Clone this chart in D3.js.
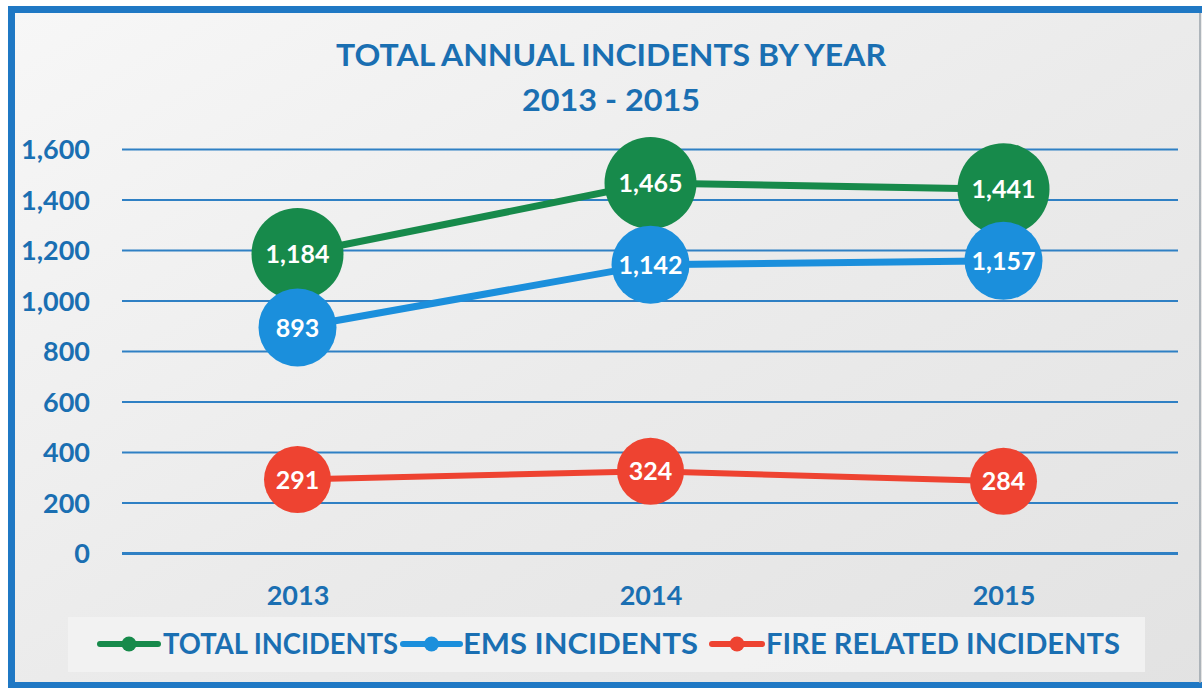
<!DOCTYPE html>
<html>
<head>
<meta charset="utf-8">
<script src="https://cdn.jsdelivr.net/npm/d3@7"></script>
<style>
  html, body { margin: 0; padding: 0; background: #ffffff; }
  svg { display: block; }
  text { font-family: Lato, "Open Sans", sans-serif; font-weight: 700; }
</style>
</head>
<body>
<svg id="chart" width="1202" height="688"></svg>
<script>
// Annual incident counts by year
const years = ["2013", "2014", "2015"];
const totalIncidents = [1184, 1465, 1441];
const emsIncidents = [893, 1142, 1157];
const fireIncidents = [291, 324, 284];
const yTicks = [0, 200, 400, 600, 800, 1000, 1200, 1400, 1600];
const seriesNames = ["TOTAL INCIDENTS", "EMS INCIDENTS", "FIRE RELATED INCIDENTS"];
const titleLines = ["TOTAL ANNUAL INCIDENTS BY YEAR", "2013 - 2015"];

const series = [
  { name: seriesNames[0], values: totalIncidents, color: "#178a4b", r: 46, lw: 7 },
  { name: seriesNames[1], values: emsIncidents, color: "#1b8fdc", r: 39, lw: 7 },
  { name: seriesNames[2], values: fireIncidents, color: "#ee4331", r: 33.5, lw: 6 }
];

const textBlue = "#1a6fb2";
const gridBlue = "#2f80c4";
const frameBlue = "#1f78c4";

const svg = d3.select("#chart");

// Panel background with a soft grey gradient
const defs = svg.append("defs");
const grad = defs.append("linearGradient").attr("id", "bg")
  .attr("x1", "0").attr("y1", "0").attr("x2", "1").attr("y2", "1");
grad.append("stop").attr("offset", "0").attr("stop-color", "#f7f7f7");
grad.append("stop").attr("offset", "0.5").attr("stop-color", "#ebebeb");
grad.append("stop").attr("offset", "1").attr("stop-color", "#e2e2e2");

svg.append("rect").attr("x", 11).attr("y", 9.5).attr("width", 1200).attr("height", 690)
  .attr("fill", "url(#bg)");

// Scales
const x = d3.scalePoint().domain(years).range([121, 1180]).padding(0.5);
const y = d3.scaleLinear().domain([0, 1600]).range([553, 149]);

// Gridlines and y tick labels through a left axis
const yAxis = d3.axisLeft(y).tickValues(yTicks).tickFormat(d3.format(",")).tickSize(-(1178 - 122)).tickPadding(32);
const gy = svg.append("g").attr("transform", "translate(122,0)").call(yAxis);
gy.select(".domain").remove();
gy.selectAll(".tick line")
  .attr("stroke", gridBlue)
  .attr("stroke-width", d => d === 0 ? 3.2 : 2);
gy.selectAll(".tick text")
  .attr("fill", textBlue)
  .style("font-size", "27px")
  .attr("dy", "0.36em");

// x category labels
const xAxis = d3.axisBottom(x).tickSize(0).tickPadding(0);
const gx = svg.append("g").attr("transform", "translate(0,605)").call(xAxis);
gx.select(".domain").remove();
gx.selectAll(".tick text")
  .attr("fill", textBlue)
  .attr("dy", 0)
  .style("font-size", "27px");

// Title
svg.append("g").selectAll("text").data(titleLines).join("text")
  .attr("x", 611)
  .attr("y", (d, i) => 66 + i * 45)
  .attr("text-anchor", "middle")
  .attr("fill", textBlue)
  .style("font-size", "30px")
  .attr("textLength", (d, i) => i === 0 ? 550 : 178)
  .attr("lengthAdjust", "spacingAndGlyphs")
  .text(d => d);

// Lines and labelled markers
const line = d3.line().x((d, i) => x(years[i])).y(d => y(d));
const gs = svg.append("g").selectAll("g").data(series).join("g");
gs.append("path")
  .attr("d", s => line(s.values))
  .attr("fill", "none")
  .attr("stroke", s => s.color)
  .attr("stroke-width", s => s.lw);
gs.each(function (s) {
  const g = d3.select(this);
  const pts = g.selectAll("g.pt").data(s.values).join("g").attr("class", "pt")
    .attr("transform", (d, i) => `translate(${x(years[i])},${y(d)})`);
  pts.append("circle").attr("r", s.r).attr("fill", s.color);
  pts.append("text")
    .attr("text-anchor", "middle")
    .attr("dy", "0.36em")
    .attr("fill", "#ffffff")
    .style("font-size", "25px")
    .text(d => d3.format(",")(d));
});

// Legend
svg.append("rect").attr("x", 68).attr("y", 617).attr("width", 1077).attr("height", 55)
  .attr("fill", "#f3f3f3").attr("opacity", 0.85);
const legendPos = [
  { lx0: 100, lx1: 158, tx: 163, tw: 235 },
  { lx0: 403, lx1: 460, tx: 463, tw: 235 },
  { lx0: 712, lx1: 762, tx: 766, tw: 354 }
];
const lg = svg.append("g").selectAll("g").data(series).join("g");
lg.append("line")
  .attr("x1", (d, i) => legendPos[i].lx0).attr("x2", (d, i) => legendPos[i].lx1)
  .attr("y1", 644).attr("y2", 644)
  .attr("stroke", d => d.color).attr("stroke-width", 6).attr("stroke-linecap", "round");
lg.append("circle")
  .attr("cx", (d, i) => (legendPos[i].lx0 + legendPos[i].lx1) / 2).attr("cy", 644)
  .attr("r", 7.5).attr("fill", d => d.color);
lg.append("text")
  .attr("x", (d, i) => legendPos[i].tx).attr("y", 654)
  .attr("fill", textBlue)
  .style("font-size", "28px")
  .attr("textLength", (d, i) => legendPos[i].tw)
  .attr("lengthAdjust", "spacingAndGlyphs")
  .text(d => d.name);

// Frame
svg.append("rect").attr("x", 11.5).attr("y", 9.5).attr("width", 1200).attr("height", 676)
  .attr("fill", "none").attr("stroke", frameBlue).attr("stroke-width", 7);
svg.append("line").attr("x1", 1200).attr("x2", 1200).attr("y1", 13).attr("y2", 683)
  .attr("stroke", "#9aa3ab").attr("stroke-width", 1.5);
</script>
</body>
</html>
